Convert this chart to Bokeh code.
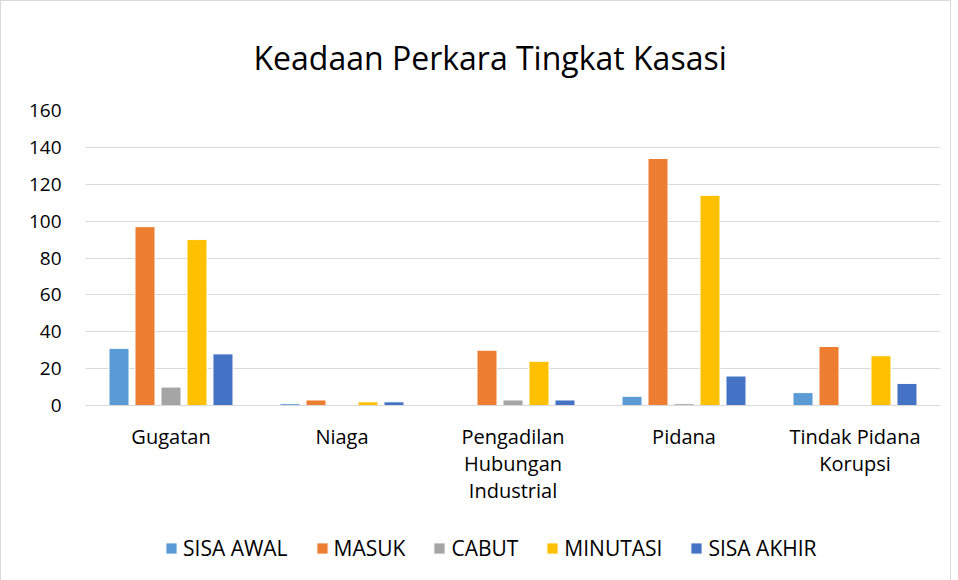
from bokeh.plotting import figure
from bokeh.models import Legend, LegendItem, ColumnDataSource, Span
from bokeh.core.properties import value
from bokeh.transform import dodge
from bokeh.embed import file_html
from bokeh.resources import INLINE

categories = ["Gugatan", "Niaga", "Pengadilan\nHubungan\nIndustrial", "Pidana", "Tindak Pidana\nKorupsi"]
series_names = ["SISA AWAL", "MASUK", "CABUT", "MINUTASI", "SISA AKHIR"]
sisa_awal = [31, 1, 0, 5, 7]
masuk = [97, 3, 30, 134, 32]
cabut = [10, 0, 3, 1, 0]
minutasi = [90, 2, 24, 114, 27]
sisa_akhir = [28, 2, 3, 16, 12]
colors = ["#5B9BD5", "#ED7D31", "#A5A5A5", "#FFC000", "#4472C4"]
y_ticks = [0, 20, 40, 60, 80, 100, 120, 140, 160]

FONT = "Open Sans"
Y_MAX = 160
PLOT_PX = 295          # pixel height of the 0..160 value area
EXTRA_PX = 169         # room below zero for category labels and legend
units_per_px = Y_MAX / PLOT_PX
y_start = -EXTRA_PX * units_per_px
label_y = -17 * units_per_px

source = ColumnDataSource(dict(cat=categories, s0=sisa_awal, s1=masuk, s2=cabut, s3=minutasi, s4=sisa_akhir))
label_source = ColumnDataSource(dict(cat=categories, y=[label_y] * len(categories)))

p = figure(x_range=categories, y_range=(y_start, Y_MAX), frame_width=855, frame_height=PLOT_PX + EXTRA_PX,
           output_backend="svg", toolbar_location=None,
           min_border_left=84, min_border_right=10, min_border_top=105, min_border_bottom=8)
p.styles = {"border": "1px solid #D9D9D9"}
p.outline_line_color = None
p.background_fill_color = "white"
p.border_fill_color = "white"

offsets = [-0.304, -0.152, 0.0, 0.152, 0.304]
items = []
for i, (name, col, off) in enumerate(zip(series_names, colors, offsets)):
    r = p.vbar(x=dodge("cat", off, range=p.x_range), top=f"s{i}", bottom=0, width=0.117, source=source,
               fill_color=col, line_color="white", line_width=1)
    items.append(LegendItem(label=name, renderers=[r]))

p.text(x="cat", y="y", text="cat", source=label_source, text_font=value(FONT),
       text_font_size="20px", text_color="#000000", text_align="center",
       text_baseline="top", text_line_height=1.0)

p.add_layout(Span(location=0, dimension="width", line_color="#D9D9D9", line_width=1))

p.title.text = "Keadaan Perkara Tingkat Kasasi"
p.title.align = "left"
p.title.text_font = FONT
p.title.text_font_size = "32px"
p.title.text_font_style = "normal"
p.title.text_color = "#000000"
p.title.offset = 168
p.title.standoff = 64

p.xaxis.visible = False
p.xgrid.grid_line_color = None
p.ygrid.grid_line_color = "#D9D9D9"
p.ygrid.grid_line_width = 1
p.yaxis.ticker = y_ticks
p.yaxis.axis_line_color = None
p.yaxis.major_tick_line_color = None
p.yaxis.minor_tick_line_color = None
p.yaxis.major_label_text_font = FONT
p.yaxis.major_label_text_font_size = "19px"
p.yaxis.major_label_text_color = "#000000"
p.yaxis.major_label_standoff = 18

legend = Legend(items=items, orientation="horizontal", location=(79, 12),
                label_text_font=FONT, label_text_font_size="21px", label_text_color="#000000",
                glyph_width=14, glyph_height=14, spacing=27, label_standoff=5,
                border_line_color=None, background_fill_alpha=0, padding=0, margin=0)
p.add_layout(legend, "center")

open("out.html", "w").write(file_html(p, INLINE))
